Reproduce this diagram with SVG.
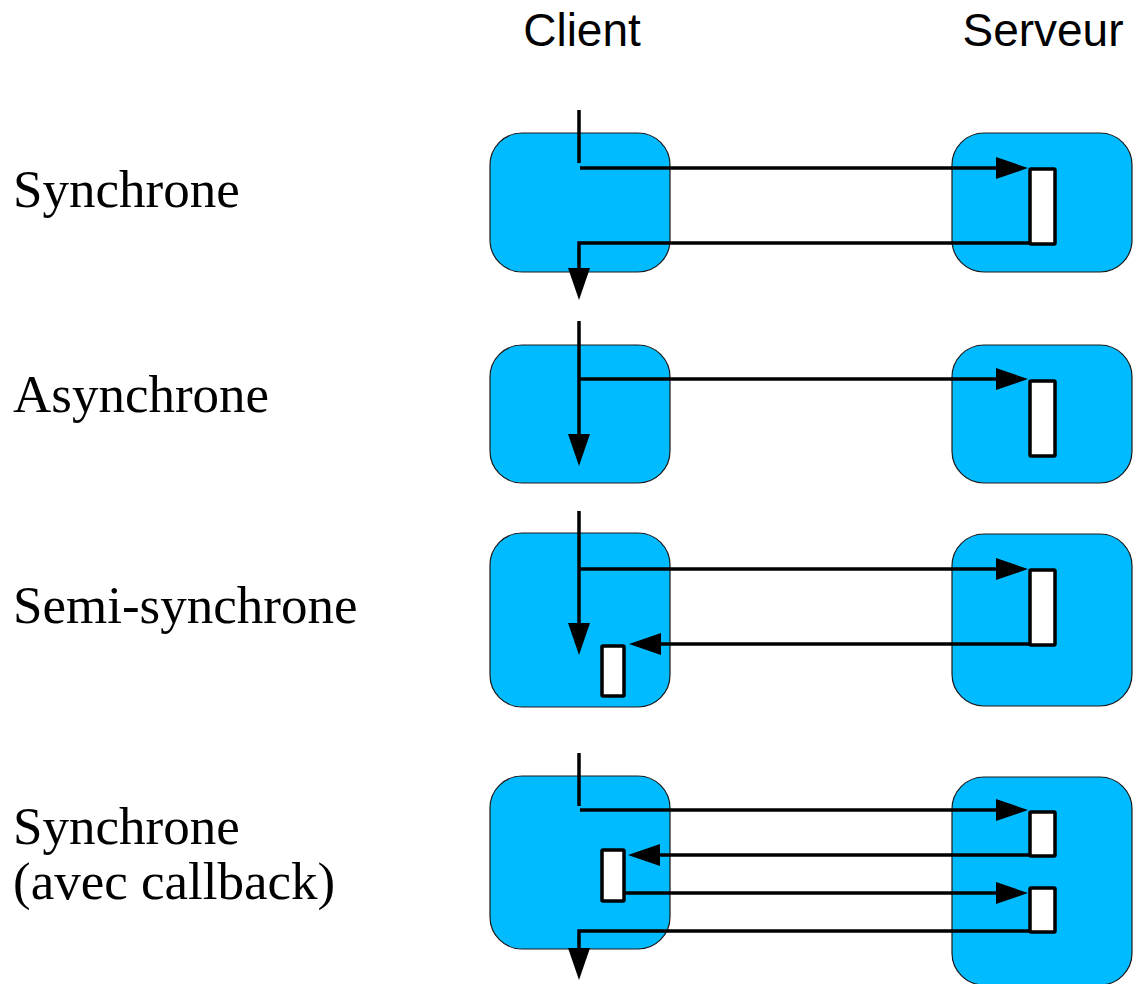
<svg xmlns="http://www.w3.org/2000/svg" width="1134" height="984" viewBox="0 0 1134 984">
<style>
.box{fill:#00bbff;stroke:#1a1a1a;stroke-width:1.2}
.act{fill:#fff;stroke:#000;stroke-width:3.5}
.ln{fill:none;stroke:#000;stroke-width:3.5}
.hd{font-family:"Liberation Sans",Arial,sans-serif;font-size:46px;fill:#000}
.lb{font-family:"Liberation Serif","Times New Roman",serif;font-size:53px;fill:#000}
</style>
<defs>
<marker id="ah" markerUnits="userSpaceOnUse" markerWidth="34" markerHeight="24" refX="24" refY="11" orient="auto" viewBox="0 0 34 24">
<path d="M0,0 L32,11 L0,22 z" fill="#000"/>
</marker>
</defs>
<g id="headers">
<text class="hd" x="582" y="46" text-anchor="middle">Client</text>
<text class="hd" x="1043" y="46" text-anchor="middle">Serveur</text>
</g>
<g id="labels">
<text class="lb" x="13" y="207">Synchrone</text>
<text class="lb" x="13" y="412">Asynchrone</text>
<text class="lb" x="13" y="623">Semi-synchrone</text>
<text class="lb" x="13" y="844">Synchrone</text>
<text class="lb" x="13" y="899">(avec callback)</text>
</g>
<g id="row1">
<rect id="client1" class="box" x="490" y="133" width="180" height="139" rx="32"/>
<rect id="server1" class="box" x="952" y="133" width="180" height="139" rx="32"/>
<rect id="s1act" class="act" x="1030" y="169" width="25" height="75" rx="1"/>
</g>
<g id="row2">
<rect id="client2" class="box" x="490" y="345" width="180" height="138" rx="32"/>
<rect id="server2" class="box" x="952" y="345" width="180" height="138" rx="32"/>
<rect id="s2act" class="act" x="1030" y="381" width="25" height="75" rx="1"/>
</g>
<g id="row3">
<rect id="client3" class="box" x="490" y="533" width="180" height="174" rx="32"/>
<rect id="server3" class="box" x="952" y="534" width="180" height="172" rx="32"/>
<rect id="s3act" class="act" x="1030" y="570" width="25" height="75" rx="1"/>
<rect id="c3act" class="act" x="602" y="646" width="22" height="50" rx="1"/>
</g>
<g id="row4">
<rect id="client4" class="box" x="490" y="776" width="180" height="173" rx="32"/>
<rect id="server4" class="box" x="952" y="777" width="180" height="208" rx="32"/>
<rect id="s4act1" class="act" x="1030" y="812" width="25" height="44" rx="1"/>
<rect id="s4act2" class="act" x="1030" y="888" width="25" height="44" rx="1"/>
<rect id="c4act" class="act" x="602" y="850" width="22" height="51" rx="1"/>
</g>
<g id="connectors">
<line class="ln" x1="579" y1="110" x2="579" y2="163"/>
<line class="ln" x1="580" y1="168" x2="1020" y2="168" marker-end="url(#ah)"/>
<polyline class="ln" points="1030,243 579,243 579,292" marker-end="url(#ah)"/>

<line class="ln" x1="579" y1="321" x2="579" y2="458" marker-end="url(#ah)"/>
<line class="ln" x1="580" y1="379" x2="1020" y2="379" marker-end="url(#ah)"/>

<line class="ln" x1="579" y1="511" x2="579" y2="647" marker-end="url(#ah)"/>
<line class="ln" x1="580" y1="569" x2="1020" y2="569" marker-end="url(#ah)"/>
<line class="ln" x1="1030" y1="644" x2="637" y2="644" marker-end="url(#ah)"/>

<line class="ln" x1="579" y1="753" x2="579" y2="806"/>
<line class="ln" x1="580" y1="810" x2="1020" y2="810" marker-end="url(#ah)"/>
<line class="ln" x1="1030" y1="855" x2="636" y2="855" marker-end="url(#ah)"/>
<line class="ln" x1="624" y1="893" x2="1020" y2="893" marker-end="url(#ah)"/>
<polyline class="ln" points="1030,931 579,931 579,972" marker-end="url(#ah)"/>
</g>
</svg>
